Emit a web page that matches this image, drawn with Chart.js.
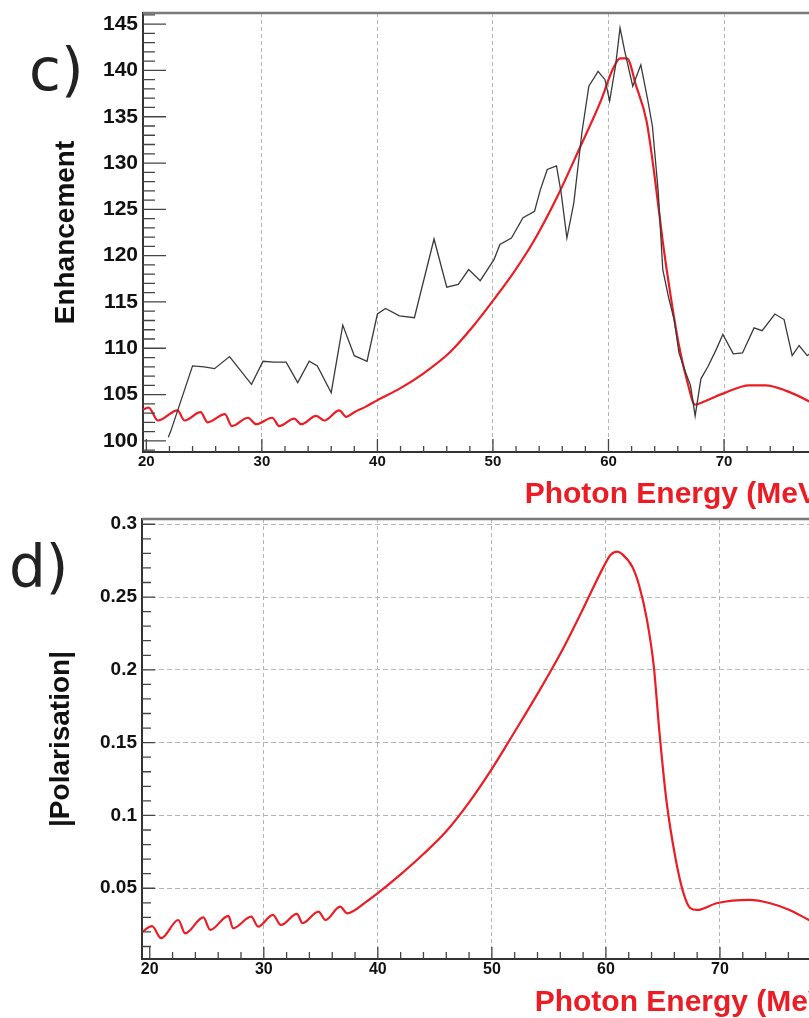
<!DOCTYPE html>
<html>
<head>
<meta charset="utf-8">
<script src="https://cdn.jsdelivr.net/npm/chart.js@4.4.0/dist/chart.umd.min.js"></script>
<style>
  html, body { margin: 0; padding: 0; background: #fff; }
  body { width: 809px; height: 1018px; overflow: hidden; position: relative; }
  canvas { position: absolute; left: 0; }
  #enh { top: 0; width: 840px; height: 510px; }
  #pol { top: 505px; width: 850px; height: 513px; }
  .panel { position: absolute; font-family: 'DejaVu Sans', sans-serif; font-size: 58px; line-height: 1; color: #222; }
</style>
</head>
<body>
<canvas id="enh" width="840" height="510"></canvas>
<canvas id="pol" width="850" height="513"></canvas>
<div class="panel" style="left:29px; top:41px">c)</div>
<div class="panel" style="left:9px; top:538px">d)</div>
<script>
// c) measured enhancement (black)
const dataE = [21.9, 22.1, 24.0, 25.0, 25.9, 27.2, 29.1, 30.1, 31.0, 32.1, 33.1, 34.1, 34.8, 36.0, 37.0, 38.0,
    39.1, 40.0, 40.7, 41.9, 43.2, 44.9, 46.0, 47.0, 47.9, 48.9, 50.1, 50.6, 51.6, 52.6, 53.6, 54.1, 54.7,
    55.5, 55.9, 56.4, 57.0, 57.7, 58.3, 59.1, 59.7, 60.1, 60.6, 61.0, 61.4, 62.1, 62.8, 63.4, 63.8, 64.3,
    64.7, 65.2, 65.7, 66.1, 66.7, 67.1, 67.5, 68.0, 68.6, 69.3, 69.9, 70.8, 71.6, 72.6, 73.3, 74.4, 75.2,
    75.9, 76.5, 77.2, 78.0];
const dataEnh = [100.4, 101.0, 108.1, 108.0, 107.8, 109.1, 106.1, 108.6, 108.5, 108.5, 106.3, 108.6, 108.1, 105.2, 112.5, 109.2,
    108.6, 113.7, 114.3, 113.5, 113.3, 121.8, 116.6, 116.9, 118.5, 117.3, 119.6, 121.2, 121.9, 124.1, 124.8, 127.1, 129.3,
    129.7, 126.8, 121.9, 125.7, 133.3, 138.3, 139.9, 139.0, 136.7, 140.4, 144.6, 142.1, 138.3, 140.6, 136.8, 134.0, 127.0,
    118.5, 115.5, 113.0, 109.5, 107.3, 106.0, 102.7, 106.7, 108.0, 109.8, 111.5, 109.4, 109.5, 112.2, 111.9, 113.7, 113.1,
    109.2, 110.3, 109.2, 110.0];

// c) calculated enhancement (red)
const calcE = [19.71, 20.2, 21.0, 22.7, 23.3, 24.7, 25.3, 26.8, 27.4, 28.8, 29.5, 30.9, 31.5, 32.8, 33.4, 34.7,
    35.4, 36.7, 37.3, 38.0, 39.0, 40.0, 42.0, 44.0, 46.3, 48.3, 50.1, 51.8, 53.5, 55.5, 57.5, 59.3,
    60.4, 61.0, 61.6, 62.4, 63.3, 64.0, 64.7, 65.4, 66.1, 66.8, 67.5, 68.0, 69.9, 72.2, 73.6, 75.4, 77.3, 79.0];
const calcEnh = [103.4, 103.6, 102.2, 103.3, 102.2, 103.1, 102.0, 102.9, 101.6, 102.5, 101.8, 102.5, 101.6, 102.4, 101.8, 102.7,
    102.2, 103.3, 102.6, 103.1, 103.7, 104.4, 105.7, 107.3, 109.6, 112.4, 115.3, 118.2, 121.5, 126.2, 131.6, 136.6,
    140.2, 141.3, 141.3, 138.3, 134.5, 128.5, 121.5, 115.5, 110.3, 106.5, 103.9, 104.1, 105.1, 106.0, 106.0, 105.4, 104.3, 103.0];

// d) calculated |polarisation| (red)
const polE = [19.32, 20.2, 21.0, 22.5, 23.1, 24.7, 25.3, 26.9, 27.3, 28.9, 29.5, 30.8, 31.5, 32.9, 33.4, 34.8,
    35.4, 36.7, 37.3, 39.0, 40.0, 42.0, 44.0, 46.0, 48.0, 50.0, 52.0, 54.0, 56.0, 58.0, 59.8, 60.4,
    61.0, 61.4, 62.3, 62.9, 63.6, 64.2, 64.7, 65.3, 66.1, 66.8, 67.4, 68.0, 69.7, 72.6, 74.4, 76.1, 77.8, 80.0];
const polVal = [0.020, 0.024, 0.0157, 0.0282, 0.019, 0.030, 0.0214, 0.031, 0.0225, 0.0305, 0.0236, 0.0317, 0.0248, 0.0324, 0.026, 0.034,
    0.0282, 0.0374, 0.0328, 0.0408, 0.0466, 0.0595, 0.0735, 0.0891, 0.1090, 0.1320, 0.1575, 0.1835, 0.2110, 0.2420, 0.2709, 0.2789,
    0.2812, 0.2796, 0.2709, 0.2583, 0.2343, 0.2022, 0.1565, 0.1106, 0.0706, 0.0466, 0.0363, 0.0351, 0.0397, 0.042, 0.0397, 0.0351, 0.0282, 0.020];

// tick labels
const energyTicks = [20, 30, 40, 50, 60, 70];
const enhTicks = [100, 105, 110, 115, 120, 125, 130, 135, 140, 145];
const polTicks = [0.05, 0.1, 0.15, 0.2, 0.25, 0.3];

const FONT = 'Liberation Sans, Arial, sans-serif';
const RED = '#ec1c24';

// ROOT style frame: inward major/minor ticks and grey top border
const rootFrame = {
    id: 'rootFrame',
    afterDatasetsDraw(chart, args, o) {
        const { ctx, chartArea: a, scales: { x, y } } = chart;
        ctx.save();
        ctx.strokeStyle = '#444';
        ctx.lineWidth = 1.3;
        const marks = (scale, minor, majLen, minLen, horiz) => {
            const majors = scale.ticks.map(t => t.value);
            const k0 = Math.ceil(scale.min / minor - 1e-6);
            const k1 = Math.floor(scale.max / minor + 1e-6);
            ctx.beginPath();
            for (let k = k0; k <= k1; k++) {
                const v = k * minor;
                const len = majors.some(m => Math.abs(m - v) < minor / 10) ? majLen : minLen;
                const p = scale.getPixelForValue(v);
                if (horiz) { ctx.moveTo(p, a.bottom); ctx.lineTo(p, a.bottom - len); }
                else { ctx.moveTo(a.left, p); ctx.lineTo(a.left + len, p); }
            }
            ctx.stroke();
        };
        marks(x, o.xMinor, o.xMajLen, o.xMinLen, true);
        marks(y, o.yMinor, o.yMajLen, o.yMinLen, false);
        ctx.strokeStyle = '#7a7a7a';
        ctx.lineWidth = 2.5;
        ctx.beginPath();
        ctx.moveTo(a.left, a.top);
        ctx.lineTo(a.right, a.top);
        ctx.stroke();
        ctx.restore();
    }
};

const gridColor = c => (c.tick && c.tick.value === 20 ? 'rgba(0,0,0,0)' : '#b4b4b4');

function energyAxis(min, max, boxH, fontSize, pad) {
    return {
        type: 'linear', min, max,
        afterBuildTicks: s => { s.ticks = energyTicks.map(v => ({ value: v })); },
        afterFit: s => { s.height = boxH; s.paddingLeft = 0; s.paddingRight = 0; },
        grid: { color: gridColor, lineWidth: 1, drawTicks: false },
        border: { display: true, color: '#333', width: 2, dash: [4, 3] },
        ticks: {
            autoSkip: false, maxRotation: 0, padding: pad, color: '#111',
            font: { family: FONT, size: fontSize, weight: 'bold' },
            callback: v => String(v),
        },
        title: {
            display: true, text: 'Photon Energy (MeV)', align: 'end', color: RED, padding: 0,
            font: { family: FONT, size: 30, weight: 'bold', lineHeight: 1 },
        },
    };
}

const noPadY = w => s => { s.width = w; s.paddingTop = 0; s.paddingBottom = 0; };

new Chart(document.getElementById('enh'), {
    type: 'line',
    data: {
        datasets: [
            {
                label: 'data',
                data: dataE.map((e, i) => ({ x: e, y: dataEnh[i] })),
                borderColor: '#3a3a3a', borderWidth: 1.3, pointRadius: 0, tension: 0,
            },
            {
                label: 'calculation',
                data: calcE.map((e, i) => ({ x: e, y: calcEnh[i] })),
                borderColor: RED, borderWidth: 2.2, pointRadius: 0,
                cubicInterpolationMode: 'monotone', tension: 0.4,
            },
        ],
    },
    plugins: [rootFrame],
    options: {
        responsive: false,
        animation: false,
        events: [],
        layout: { padding: { top: 13, right: 12, left: 0, bottom: 0 } },
        plugins: {
            legend: { display: false },
            tooltip: { enabled: false },
            rootFrame: { xMinor: 2, xMajLen: 13, xMinLen: 6, yMinor: 1, yMajLen: 23, yMinLen: 12 },
        },
        scales: {
            x: energyAxis(19.71, 79, 58, 15, 1),
            y: {
                type: 'linear', min: 98.8, max: 146.2,
                afterBuildTicks: s => { s.ticks = enhTicks.map(v => ({ value: v })); },
                afterFit: noPadY(143),
                grid: { drawOnChartArea: false, drawTicks: false },
                border: { display: true, color: '#333', width: 2 },
                ticks: {
                    autoSkip: false, padding: 5, color: '#111',
                    font: { family: FONT, size: 21, weight: 'bold' },
                    callback: v => String(v),
                },
                title: {
                    display: true, text: 'Enhancement', color: '#111', padding: { top: 49, bottom: 0 },
                    font: { family: FONT, size: 28, weight: 'bold' },
                },
            },
        },
    },
});

new Chart(document.getElementById('pol'), {
    type: 'line',
    data: {
        datasets: [
            {
                label: 'polarisation',
                data: polE.map((e, i) => ({ x: e, y: polVal[i] })),
                borderColor: RED, borderWidth: 2.2, pointRadius: 0,
                cubicInterpolationMode: 'monotone', tension: 0.4,
            },
        ],
    },
    plugins: [rootFrame],
    options: {
        responsive: false,
        animation: false,
        events: [],
        layout: { padding: { top: 14, right: 12, left: 0, bottom: 0 } },
        plugins: {
            legend: { display: false },
            tooltip: { enabled: false },
            rootFrame: { xMinor: 2, xMajLen: 12, xMinLen: 7, yMinor: 0.01, yMajLen: 13, yMinLen: 9 },
        },
        scales: {
            x: energyAxis(19.32, 80.35, 59, 16, 1.4),
            y: {
                type: 'linear', min: 0.0014, max: 0.3036,
                afterBuildTicks: s => { s.ticks = polTicks.map(v => ({ value: v })); },
                afterFit: noPadY(142),
                grid: { color: '#b4b4b4', lineWidth: 1, drawTicks: false },
                border: { display: true, color: '#333', width: 2, dash: [5, 3] },
                ticks: {
                    autoSkip: false, padding: 5, color: '#111',
                    font: { family: FONT, size: 19, weight: 'bold' },
                    callback: v => String(+v.toFixed(2)),
                },
                title: {
                    display: true, text: '|Polarisation|', color: '#111', padding: { top: 44, bottom: 0 },
                    font: { family: FONT, size: 28, weight: 'bold' },
                },
            },
        },
    },
});
</script>
</body>
</html>
